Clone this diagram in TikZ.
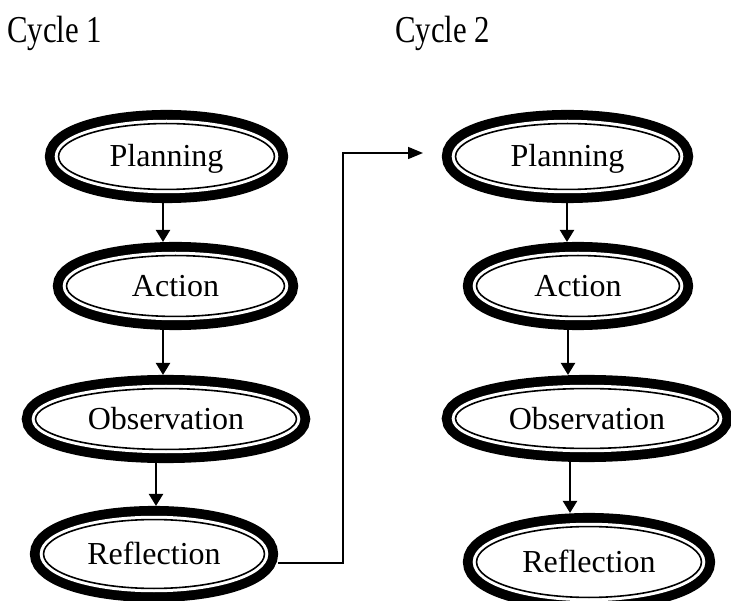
\documentclass[tikz,border=0pt]{standalone}
\usepackage{fontspec}
\usepackage{graphicx}
\setmainfont{Liberation Serif}
\usetikzlibrary{arrows.meta,shapes.geometric}
\begin{document}
\begin{tikzpicture}[x=1pt,y=-1pt,
  ring/.style n args={2}{ellipse, draw=black, line width=1.6pt, fill=white,
    inner sep=0pt, outer sep=13.6pt, minimum width=#1-2.6pt, minimum height=#2-2.6pt,
    font=\fontsize{32}{38}\selectfont, text height=21pt, text depth=0pt,
    preaction={draw=black, line width=27.2pt},
    preaction={draw=white, line width=7.6pt}},
  flow/.style={-{Triangle[length=12pt,width=14pt]}, line width=2.2pt},
  loopback/.style={-{Triangle[length=15pt,width=12pt]}, line width=1.5pt},
  cyc/.style={anchor=base west, font=\fontsize{38}{44}\selectfont, inner sep=0pt}]
\useasboundingbox (0,0) rectangle (731,601);
\fill[white] (0,0) rectangle (731,601);

\node[cyc] (c1) at (7,43) {\scalebox{0.81}[1]{Cycle 1}};
\node[cyc] (c2) at (395,43) {\scalebox{0.81}[1]{Cycle 2}};

% cycle 1
\node[ring={218.5pt}{68.5pt}] (p1) at (166.5,156.5) {Planning};
\node[ring={220.5pt}{63.5pt}] (a1) at (175.5,286) {Action};
\node[ring={263.5pt}{63.5pt}] (o1) at (166,419) {Observation};
\node[ring={223.5pt}{71.5pt}] (r1) at (154,554) {Reflection};

% cycle 2
\node[ring={226.5pt}{68.5pt}] (p2) at (567.5,156.5) {Planning};
\node[ring={205.5pt}{63.5pt}] (a2) at (578,286) {Action};
\node[ring={265.5pt}{62.5pt}] (o2) at (587,418.5) {Observation};
\node[ring={227.5pt}{73.5pt}] (r2) at (589,562) {Reflection};

\draw[flow] ([xshift=-3.5pt]p1.south) -- ([xshift=-3.5pt]p1.south |- a1.north);
\draw[flow] ([xshift=-12.5pt]a1.south) -- ([xshift=-12.5pt]a1.south |- o1.north);
\draw[flow] ([xshift=-10pt]o1.south) -- ([xshift=-10pt]o1.south |- r1.north);

\draw[flow] ([xshift=-0.5pt]p2.south) -- ([xshift=-0.5pt]p2.south |- a2.north);
\draw[flow] ([xshift=-10pt]a2.south) -- ([xshift=-10pt]a2.south |- o2.north);
\draw[flow] ([xshift=-17pt]o2.south) -- ([xshift=-17pt]o2.south |- r2.north);

\coordinate (lk) at (343,153);
\coordinate (lt) at (423,153);
\draw[loopback] ([yshift=-9pt]r1.east) -| (lk) -- (lt);
\end{tikzpicture}
\end{document}
